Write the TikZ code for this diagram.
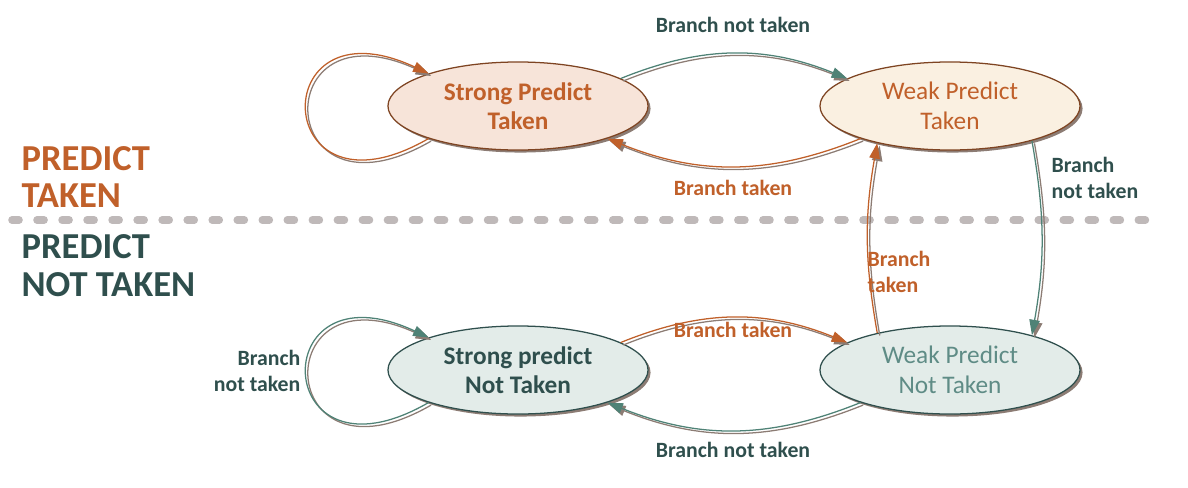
\documentclass[tikz,border=0pt]{standalone}
\usepackage{fontspec}
\setmainfont{Carlito}
\usetikzlibrary{arrows.meta,shapes.geometric,shadows}
\definecolor{tkorange}{HTML}{C0602A}
\definecolor{ntteal}{HTML}{2F4F4D}
\definecolor{ntarrow}{HTML}{4F8276}
\definecolor{ntlight}{HTML}{5F8C86}
\definecolor{shadowgray}{HTML}{8C7C74}
\definecolor{sepgray}{HTML}{BFB9B9}
\definecolor{sptfill}{HTML}{F7E4D9}
\definecolor{wptfill}{HTML}{FAF0E1}
\definecolor{ntfill}{HTML}{E3ECE9}
\definecolor{tkborder}{HTML}{7E4422}
\begin{document}
\begin{tikzpicture}[x=0.025cm, y=-0.025cm, line width=0.9pt,
  state/.style={ellipse,draw,minimum width=6.5cm,minimum height=2.2cm,inner sep=0pt,align=center,
    font=\fontsize{18}{21}\selectfont,drop shadow={shadow xshift=1.8pt,shadow yshift=-1.8pt,fill=shadowgray,opacity=1}},
  lbl/.style={font=\fontsize{15.5}{18.5}\selectfont\bfseries,inner sep=0pt},
  tk/.style={text=tkorange},
  nt/.style={text=ntteal},
  taken/.style={draw=tkorange},
  nottaken/.style={draw=ntarrow}]%
\useasboundingbox (0,0) rectangle (1188,487);
% separator
\coordinate (sepl) at (12,220);
\coordinate (sepr) at (1158,220);
\draw[sepgray,line width=5.4pt,line cap=round,dash pattern=on 5pt off 12.8pt] (sepl) -- (sepr);
\begin{scope}[every node/.style={font=\fontsize{26}{27}\selectfont\bfseries,inner sep=0pt,anchor=west,align=left}]
\node[tk] (ptaken) at (21,177) {PREDICT\\TAKEN};
\node[nt] (pnottaken) at (21,266) {PREDICT\\NOT TAKEN};
\end{scope}
% states
\node[state,draw=tkborder,fill=sptfill,text=tkorange,font=\fontsize{18}{21}\selectfont\bfseries] (spt) at (518,106) {Strong Predict\\Taken};
\node[state,draw=tkborder,fill=wptfill,text=tkorange] (wpt) at (950,106) {Weak Predict\\Taken};
\node[state,draw=ntteal,fill=ntfill,text=ntteal,font=\fontsize{18}{21}\selectfont\bfseries] (spnt) at (518,370) {Strong predict\\Not Taken};
\node[state,draw=ntteal,fill=ntfill,text=ntlight] (wpnt) at (950,370) {Weak Predict\\Not Taken};
% transitions
\begin{scope}[every edge/.style={draw,-{Triangle[length=11pt,width=7.5pt]},line width=.9pt,
    preaction={draw=shadowgray,transform canvas={shift={(1.8pt,-1.8pt)}}}}]
\draw (spt.15) edge[nottaken,bend left=22] (wpt.165);
\draw (wpt.200) edge[taken,bend left=22] (spt.-20);
\draw (spt.200) edge[taken,out=210,in=155,looseness=7.2] (spt.160);
\draw (wpt.-23) edge[nottaken,bend left=10] (wpnt.23);
\draw (wpnt.153) edge[taken,bend left=10] (wpt.207);
\draw (spnt.15) edge[taken,bend left=22] (wpnt.165);
\draw (wpnt.200) edge[nottaken,bend left=22] (spnt.-20);
\draw (spnt.200) edge[nottaken,out=210,in=155,looseness=7.2] (spnt.160);
\end{scope}
% labels
\node[lbl,nt] (bnt1) at (733,25) {Branch not taken};
\node[lbl,tk] (bt1) at (733,188) {Branch taken};
\node[lbl,nt,align=left,anchor=west] (bnt2) at (1051,178) {Branch\\not taken};
\node[lbl,tk,align=left,anchor=west] (bt2) at (867,272) {Branch\\taken};
\node[lbl,tk] (bt3) at (733,330) {Branch taken};
\node[lbl,nt] (bnt3) at (733,450) {Branch not taken};
\node[lbl,nt,align=right,anchor=east] (bnt4) at (301,371) {Branch\\not taken};
\end{tikzpicture}
\end{document}
